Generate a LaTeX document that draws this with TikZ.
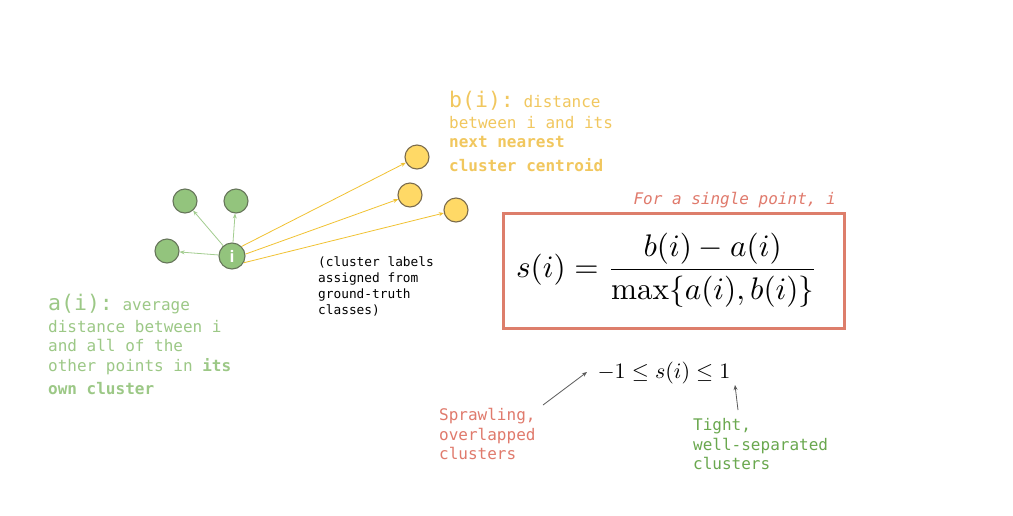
\documentclass[tikz,border=0pt]{standalone}
\usepackage{fontspec}
\usetikzlibrary{arrows.meta}
\newfontfamily\monof{DejaVu Sans Mono}
\setsansfont{Open Sans}
\definecolor{ptgreen}{HTML}{93C47D}
\definecolor{ptgreenline}{HTML}{66755A}
\definecolor{ptyellow}{HTML}{FFD966}
\definecolor{ptyellowline}{HTML}{7A6B4C}
\definecolor{txtyellow}{HTML}{F1C75E}
\definecolor{lnyellow}{HTML}{F1C232}
\definecolor{txtgreen}{HTML}{9CC886}
\definecolor{txtgreendark}{HTML}{6AA84F}
\definecolor{boxred}{HTML}{DD7E6B}
\definecolor{txtred}{HTML}{E07A6C}
\begin{document}
\begin{tikzpicture}[x=1pt,y=-1pt,
  gpt/.style={circle,fill=ptgreen,draw=ptgreenline,line width=1.1pt,minimum size=24pt,inner sep=0pt},
  ypt/.style={circle,fill=ptyellow,draw=ptyellowline,line width=1.1pt,minimum size=24pt,inner sep=0pt},
  mono/.style={font=\monof\fontsize{16}{19}\selectfont,inner sep=0pt,anchor=base west},
  monobig/.style={font=\monof\fontsize{21.5}{25}\selectfont,inner sep=0pt,anchor=base west},
  monosmall/.style={font=\monof\fontsize{12.8}{16}\selectfont,inner sep=0pt,anchor=base west},
  garrow/.style={draw=ptgreen!85,line width=0.8pt,-{Stealth[length=5pt,width=4pt]}},
  yarrow/.style={draw=lnyellow,line width=0.8pt,-{Stealth[length=5pt,width=4pt]}},
  karrow/.style={draw=black!65,line width=0.8pt,-{Stealth[length=5pt,width=4pt]}}]
\useasboundingbox[fill=white] (0,0) rectangle (1013,515);

% the point i and its own cluster
\node[gpt,minimum size=26pt,text=white,font=\sffamily\bfseries\fontsize{16}{16}\selectfont] (i) at (232,256) {i};
\node[gpt] (g1) at (185,201) {};
\node[gpt] (g2) at (236,201) {};
\node[gpt] (g3) at (167,251) {};
\draw[garrow] (i) -- (g1);
\draw[garrow] (i) -- (g2);
\draw[garrow] (i) -- (g3);

% points of the neighbouring cluster
\node[ypt] (y1) at (417,157) {};
\node[ypt] (y2) at (410,195) {};
\node[ypt] (y3) at (456,210) {};
\draw[yarrow] (i.45) -- (y1);
\draw[yarrow] (i.8) -- (y2);
\draw[yarrow] (i.-30) -- (y3);

% b(i) description
\node[monobig,text=txtyellow] (b1) at (449,107) {b(i):\fontsize{16}{19}\selectfont\ distance};
\node[mono,text=txtyellow] (b2) at (449,128) {between i and its};
\node[mono,text=txtyellow,font=\monof\bfseries\fontsize{16}{19}\selectfont] (b3) at (449,147) {next nearest};
\node[mono,text=txtyellow,font=\monof\bfseries\fontsize{16}{19}\selectfont] (b4) at (449,171) {cluster centroid};

% a(i) description
\node[monobig,text=txtgreen] (a1) at (48,310) {a(i):\fontsize{16}{19}\selectfont\ average};
\node[mono,text=txtgreen] (a2) at (48,332) {distance between i};
\node[mono,text=txtgreen] (a3) at (48,351) {and all of the};
\node[mono,text=txtgreen] (a4) at (48,371) {other points in \textbf{its}};
\node[mono,text=txtgreen,font=\monof\bfseries\fontsize{16}{19}\selectfont] (a5) at (48,394) {own cluster};

% note on labels
\node[monosmall] (n1) at (318,266) {(cluster labels};
\node[monosmall] (n2) at (318,282) {assigned from};
\node[monosmall] (n3) at (318,298) {ground-truth};
\node[monosmall] (n4) at (318,314) {classes)};

% silhouette formula
\node[mono,anchor=base east,text=txtred,font=\monof\itshape\fontsize{16}{19}\selectfont] (cap) at (836,204) {For a single point, i};
\draw[boxred,line width=3pt] (503,213) rectangle (844,328);
\node[scale=3.12,inner sep=0pt] (f) at (667,270) {$\displaystyle s(i) = \frac{b(i)-a(i)}{\max\{a(i),b(i)\}}$};

% range of the score
\node[scale=2.2,inner sep=0pt,anchor=base] (r) at (664,378) {$-1 \le s(i) \le 1$};
\node[mono,text=txtred] (l1) at (439,420) {Sprawling,};
\node[mono,text=txtred] (l2) at (439,440) {overlapped};
\node[mono,text=txtred] (l3) at (439,459) {clusters};
\node[mono,text=txtgreendark] (t1) at (693,430) {Tight,};
\node[mono,text=txtgreendark] (t2) at (693,450) {well-separated};
\node[mono,text=txtgreendark] (t3) at (693,469) {clusters};
\coordinate (lo) at (543,405);
\coordinate (loend) at (587,372);
\coordinate (hi) at (738,410);
\coordinate (hiend) at (735,385);
\draw[karrow] (lo) -- (loend);
\draw[karrow] (hi) -- (hiend);
\end{tikzpicture}
\end{document}
